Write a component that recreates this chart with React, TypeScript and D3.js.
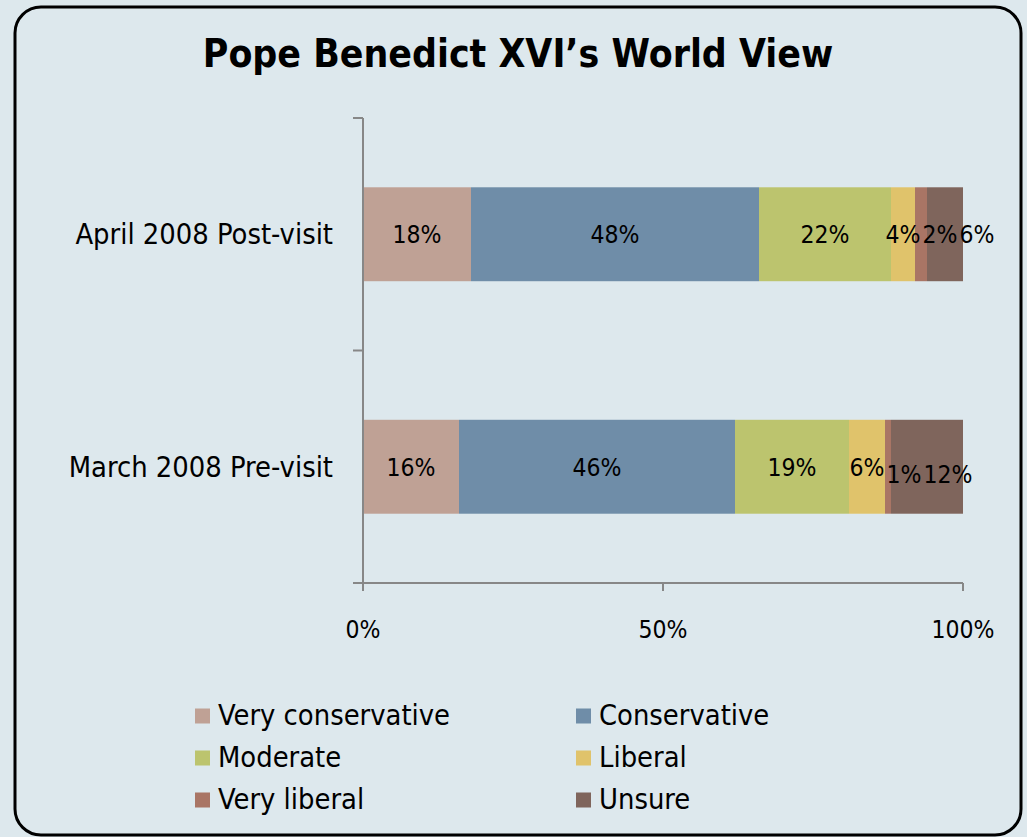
import React, { useEffect, useRef } from 'react';
import * as d3 from 'd3';

const categories = ['April 2008 Post-visit', 'March 2008 Pre-visit'];
const seriesNames = ['Very conservative', 'Conservative', 'Moderate', 'Liberal', 'Very liberal', 'Unsure'];
const aprilValues = [18, 48, 22, 4, 2, 6];
const marchValues = [16, 46, 19, 6, 1, 12];
const xTickValues = [0, 50, 100];
const seriesColors = ['#BFA195', '#6F8DA8', '#BCC46E', '#E0C36B', '#A97565', '#7F655C'];
const chartTitle = 'Pope Benedict XVI\u2019s World View';

const W = 1027;
const H = 837;
const FONT = "'DejaVu Sans Condensed', 'DejaVu Sans', sans-serif";

export default function App() {
  const ref = useRef<SVGSVGElement>(null);

  useEffect(() => {
    const svg = d3.select(ref.current);
    svg.selectAll('*').remove();

    svg.append('rect').attr('width', W).attr('height', H).attr('fill', '#DDE8ED');
    svg.append('rect')
      .attr('x', 15).attr('y', 7).attr('width', 1006).attr('height', 828)
      .attr('rx', 26).attr('ry', 26)
      .attr('fill', '#DDE8ED').attr('stroke', '#000').attr('stroke-width', 3);

    svg.append('text')
      .attr('x', 518).attr('y', 67)
      .attr('text-anchor', 'middle')
      .attr('font-family', FONT).attr('font-stretch', 'condensed')
      .attr('font-weight', 'bold').attr('font-size', 38.8)
      .attr('fill', '#000')
      .text(chartTitle);

    const x = d3.scaleLinear().domain([0, 100]).range([363, 963]);
    const y = d3.scaleBand<string>().domain(categories).range([118, 583]).paddingInner(0).paddingOuter(0);
    const barH = y.bandwidth() * 0.404;

    const rows = [aprilValues, marchValues];
    const stacked = rows.map((vals, ri) => {
      let acc = 0;
      return vals.map((v, si) => {
        const s = { cat: categories[ri], si, v, x0: acc, x1: acc + v };
        acc += v;
        return s;
      });
    });

    const g = svg.append('g');
    stacked.forEach((row) => {
      row.forEach((s) => {
        g.append('rect')
          .attr('x', x(s.x0))
          .attr('y', (y(s.cat) as number) + (y.bandwidth() - barH) / 2)
          .attr('width', x(s.x1) - x(s.x0))
          .attr('height', barH)
          .attr('fill', seriesColors[s.si]);
      });
    });

    // axes
    const axisColor = '#878787';
    const ax = svg.append('g').attr('stroke', axisColor).attr('stroke-width', 2).attr('fill', 'none');
    ax.append('line').attr('x1', x(0)).attr('x2', x(0)).attr('y1', 118).attr('y2', 591);
    ax.append('line').attr('x1', x(0) - 10).attr('x2', x(100)).attr('y1', 583).attr('y2', 583);
    const yEdges = [118, (y(categories[1]) as number), 583];
    yEdges.forEach((ye) => {
      ax.append('line').attr('x1', x(0) - 10).attr('x2', x(0)).attr('y1', ye).attr('y2', ye);
    });
    xTickValues.forEach((t) => {
      ax.append('line').attr('x1', x(t)).attr('x2', x(t)).attr('y1', 583).attr('y2', 591);
      svg.append('text')
        .attr('x', x(t)).attr('y', 638)
        .attr('text-anchor', 'middle')
        .attr('font-family', FONT).attr('font-stretch', 'condensed').attr('font-size', 24.5)
        .attr('fill', '#000')
        .text(`${t}%`);
    });

    categories.forEach((c) => {
      svg.append('text')
        .attr('x', 333).attr('y', (y(c) as number) + y.bandwidth() / 2 + 10)
        .attr('text-anchor', 'end')
        .attr('font-family', FONT).attr('font-stretch', 'condensed').attr('font-size', 28.8)
        .attr('fill', '#000')
        .text(c);
    });

    // data labels with collision nudging
    const rowDy = [0, 7];
    stacked.forEach((row, ri) => {
      let prevRight = -Infinity;
      row.forEach((s) => {
        const cx = (x(s.x0) + x(s.x1)) / 2;
        const t = svg.append('text')
          .attr('font-family', FONT).attr('font-stretch', 'condensed').attr('font-size', 24.5)
          .attr('fill', '#000')
          .attr('text-anchor', 'start')
          .text(`${s.v}%`);
        const w = (t.node() as SVGTextElement).getComputedTextLength();
        let left = cx - w / 2;
        let shifted = false;
        if (left < prevRight + 2) {
          left = prevRight + 2;
          shifted = true;
        }
        prevRight = left + w;
        const cy = (y(s.cat) as number) + y.bandwidth() / 2 + 9 + (shifted ? rowDy[ri] : 0);
        t.attr('x', left).attr('y', cy);
      });
    });

    // legend
    const legendCols = [195, 576];
    const legendRows = [716, 758, 800];
    seriesNames.forEach((name, i) => {
      const lx = legendCols[i % 2];
      const ly = legendRows[Math.floor(i / 2)];
      svg.append('rect')
        .attr('x', lx).attr('y', ly - 7.5).attr('width', 15).attr('height', 15)
        .attr('fill', seriesColors[i]);
      svg.append('text')
        .attr('x', lx + 23).attr('y', ly + 9)
        .attr('font-family', FONT).attr('font-stretch', 'condensed').attr('font-size', 28.8)
        .attr('fill', '#000')
        .text(name);
    });
  }, []);

  return (
    <svg
      ref={ref}
      width={W}
      height={H}
      style={{ position: 'absolute', left: 0, top: 0, display: 'block' }}
    />
  );
}
